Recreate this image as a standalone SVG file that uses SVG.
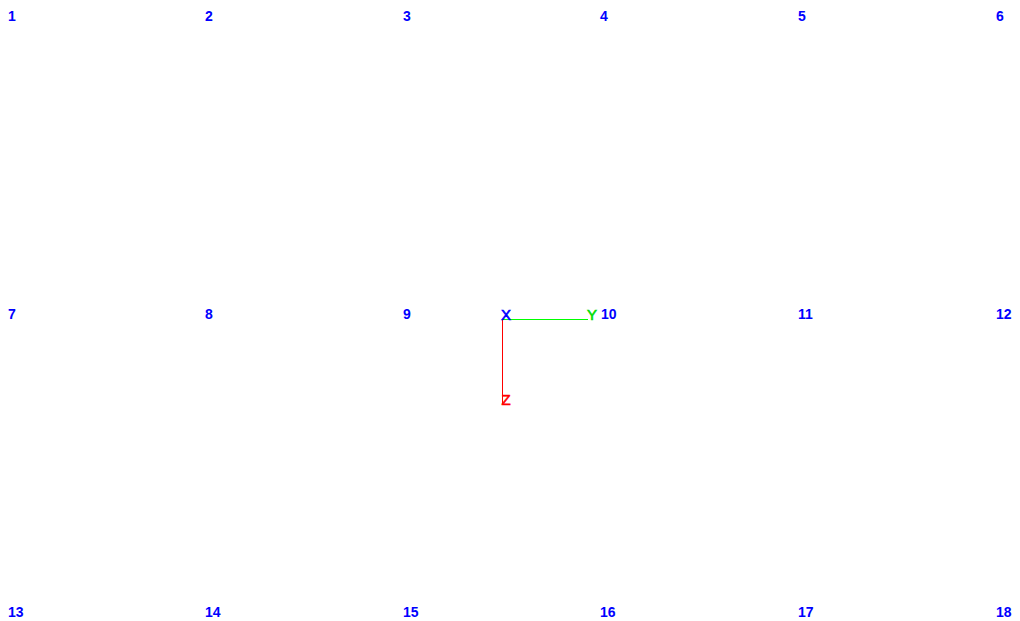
<svg xmlns="http://www.w3.org/2000/svg" width="1020" height="621" viewBox="0 0 1020 621">
<style>
.n{font-family:"Liberation Sans",Arial,sans-serif;font-size:14px;font-weight:bold;fill:#0000ff}
.ax{font-family:"Liberation Sans",Arial,sans-serif;font-size:15px;stroke-width:0.6}
</style>
<rect width="1020" height="621" fill="#ffffff"/>
<g id="node-labels">
<g id="n1"><text class="n" x="8" y="21">1</text></g>
<g id="n2"><text class="n" x="205" y="21">2</text></g>
<g id="n3"><text class="n" x="403" y="21">3</text></g>
<g id="n4"><text class="n" x="600" y="21">4</text></g>
<g id="n5"><text class="n" x="798" y="21">5</text></g>
<g id="n6"><text class="n" x="996" y="21">6</text></g>
<g id="n7"><text class="n" x="8" y="319">7</text></g>
<g id="n8"><text class="n" x="205" y="319">8</text></g>
<g id="n9"><text class="n" x="403" y="319">9</text></g>
<g id="n10"><text class="n" x="601" y="319">10</text></g>
<g id="n11"><text class="n" x="798" y="319">11</text></g>
<g id="n12"><text class="n" x="996" y="319">12</text></g>
<g id="n13"><text class="n" x="8" y="617">13</text></g>
<g id="n14"><text class="n" x="205" y="617">14</text></g>
<g id="n15"><text class="n" x="403" y="617">15</text></g>
<g id="n16"><text class="n" x="600" y="617">16</text></g>
<g id="n17"><text class="n" x="798" y="617">17</text></g>
<g id="n18"><text class="n" x="996" y="617">18</text></g>
</g>
<g id="axes">
<rect x="503" y="319" width="85" height="1" fill="#00ff00"/>
<rect x="502" y="319" width="1" height="85" fill="#ff0000"/>
<text class="ax" x="501" y="319.5" fill="#0000ff" stroke="#0000ff">X</text>
<text class="ax" x="587" y="319.5" fill="#00dd00" stroke="#00dd00">Y</text>
<text class="ax" x="501.5" y="405" fill="#ff0000" stroke="#ff0000">Z</text>
</g>
</svg>
